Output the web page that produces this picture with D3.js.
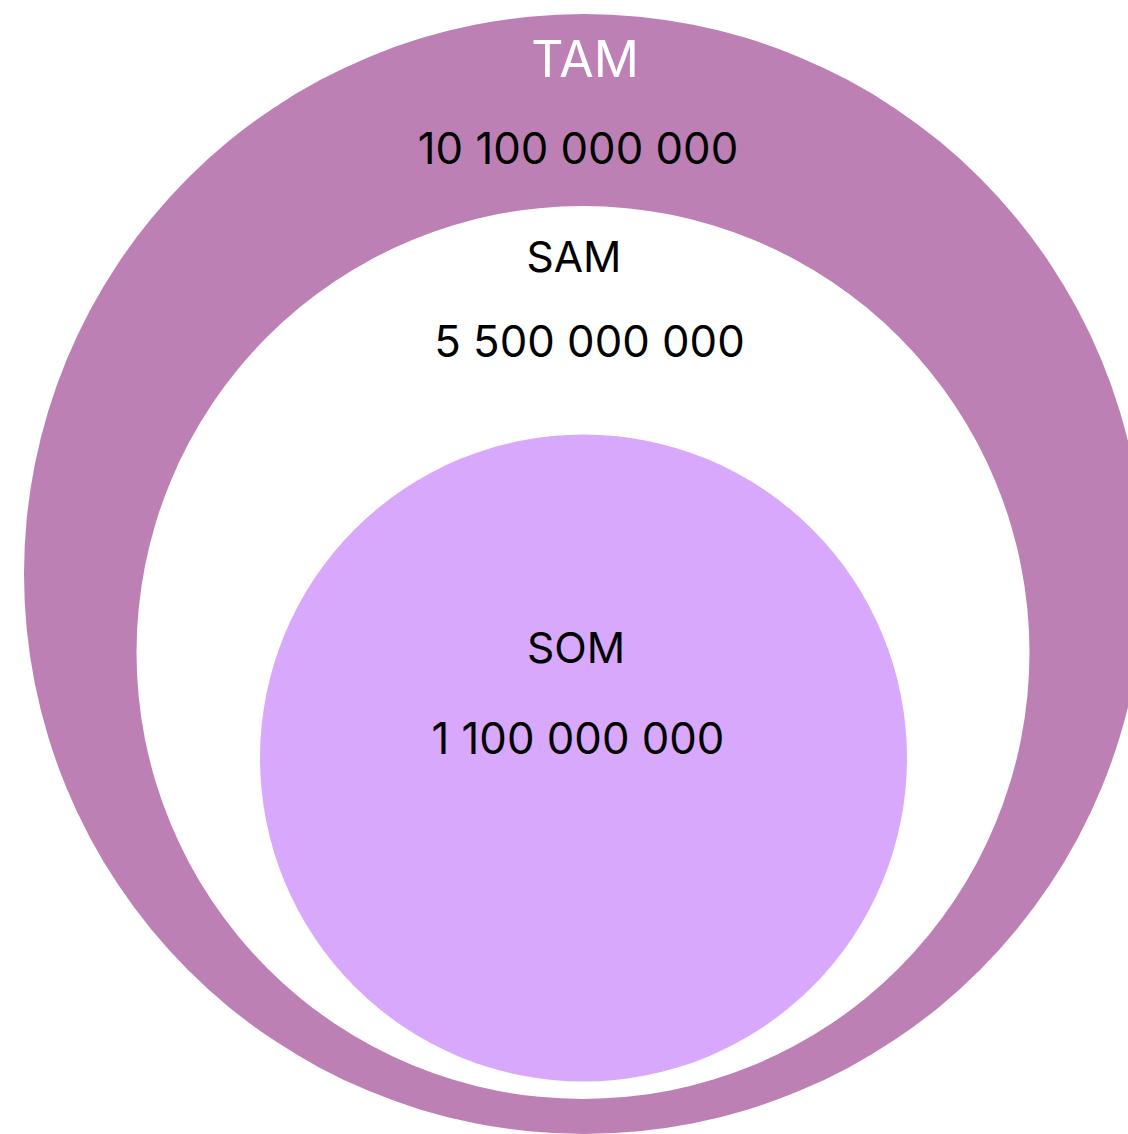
<!DOCTYPE html>
<html>
<head>
<meta charset="utf-8">
<script src="https://cdn.jsdelivr.net/npm/d3@7"></script>
<style>
  html, body { margin: 0; padding: 0; background: #ffffff; }
  svg { display: block; }
  text { font-family: Inter, "Noto Sans", sans-serif; }
</style>
</head>
<body>
<svg id="chart" width="1128" height="1134"></svg>
<script>
// Data
const categories = ["TAM", "SAM", "SOM"];
const values = [10100000000, 5500000000, 1100000000];
const valueLabels = ["10 100 000 000", "5 500 000 000", "1 100 000 000"];

// Layout (not data)
const circles = [
  { cx: 584, cy: 574, r: 560, fill: "#bd80b5" },
  { cx: 583, cy: 652.5, r: 446.5, fill: "#ffffff" },
  { cx: 583.5, cy: 758, r: 323.5, fill: "#d7a8fc" }
];
const labelPos = [
  { nameX: 585, nameY: 77, nameSize: 50, nameColor: "#ffffff", valX: 578, valY: 164 },
  { nameX: 574, nameY: 271.5, nameSize: 42.5, nameColor: "#000000", valX: 589.5, valY: 357 },
  { nameX: 576, nameY: 663, nameSize: 42.5, nameColor: "#000000", valX: 578, valY: 754 }
];

const svg = d3.select("#chart");
const data = categories.map((c, i) => ({ name: c, value: values[i], label: valueLabels[i], circ: circles[i], pos: labelPos[i] }));

svg.selectAll("circle.market")
  .data(data)
  .join("circle")
  .attr("class", "market")
  .attr("cx", d => d.circ.cx)
  .attr("cy", d => d.circ.cy)
  .attr("r", d => d.circ.r)
  .attr("fill", d => d.circ.fill);

svg.selectAll("text.name")
  .data(data)
  .join("text")
  .attr("class", "name")
  .attr("x", d => d.pos.nameX)
  .attr("y", d => d.pos.nameY)
  .attr("text-anchor", "middle")
  .attr("font-size", d => d.pos.nameSize)
  .attr("fill", d => d.pos.nameColor)
  .text(d => d.name);

svg.selectAll("text.value")
  .data(data)
  .join("text")
  .attr("class", "value")
  .attr("x", d => d.pos.valX)
  .attr("y", d => d.pos.valY)
  .attr("text-anchor", "middle")
  .attr("font-size", 43.7)
  .attr("fill", "#000000")
  .text(d => d.label);
</script>
</body>
</html>
